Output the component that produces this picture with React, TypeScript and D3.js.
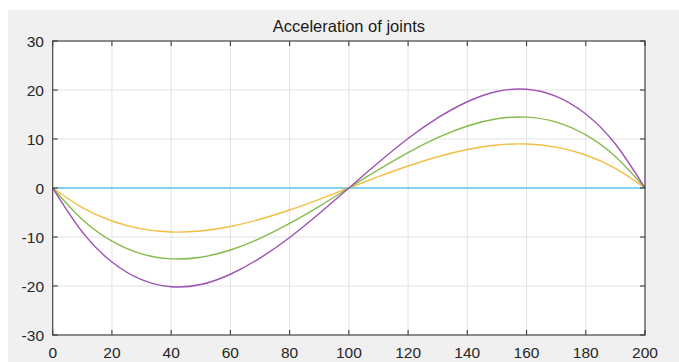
import React from "react";
import * as d3 from "d3";

const xs = [0, 10, 20, 30, 40, 50, 60, 70, 80, 90, 100, 110, 120, 130, 140, 150, 160, 170, 180, 190, 200];
const purple = [0, -8.97, -15.1, -18.7, -20.15, -19.7, -17.6, -14.3, -10.1, -5.2, 0, 5.2, 10.1, 14.3, 17.6, 19.7, 20.15, 18.7, 15.1, 8.97, 0];
const green = [0, -6.44, -10.85, -13.45, -14.47, -14.13, -12.66, -10.28, -7.23, -3.73, 0, 3.73, 7.23, 10.28, 12.66, 14.13, 14.47, 13.45, 10.85, 6.44, 0];
const yellow = [0, -4.0, -6.73, -8.35, -8.98, -8.77, -7.86, -6.38, -4.49, -2.31, 0, 2.31, 4.49, 6.38, 7.86, 8.77, 8.98, 8.35, 6.73, 4.0, 0];
const cyan = [0, 0, 0, 0, 0, 0, 0, 0, 0, 0, 0, 0, 0, 0, 0, 0, 0, 0, 0, 0, 0];
const xTicks = [0, 20, 40, 60, 80, 100, 120, 140, 160, 180, 200];
const yTicks = [-30, -20, -10, 0, 10, 20, 30];
const title = "Acceleration of joints";

const series = [
  { name: "cyan", values: cyan, color: "#5ec5ee" },
  { name: "yellow", values: yellow, color: "#f2be45" },
  { name: "green", values: green, color: "#86bb4c" },
  { name: "purple", values: purple, color: "#9d52b4" },
];

export default function App() {
  const W = 679, H = 362;
  const L = 52.7, R = 645, T = 41, B = 335;
  const x = d3.scaleLinear().domain([0, 200]).range([L, R]);
  const y = d3.scaleLinear().domain([-30, 30]).range([B, T]);
  const line = (vals: number[]) =>
    d3.line<number>().x((_, i) => x(xs[i])).y((d) => y(d)).curve(d3.curveNatural)(vals) || "";
  const font = "'Liberation Sans', Arial, Helvetica, sans-serif";
  const axisColor = "#3a3a3a";
  const tl = 5;
  return (
    <svg width={W} height={H} style={{ position: "absolute", left: 0, top: 0, display: "block" }}>
      <rect x={0} y={0} width={W} height={H} fill="#ffffff" />
      <rect x={8} y={10} width={W - 8} height={H - 10} fill="#f0f0f0" />
      <rect x={L} y={T} width={R - L} height={B - T} fill="#ffffff" />
      {xTicks.map((t) => (
        <line key={"gx" + t} x1={x(t)} x2={x(t)} y1={T} y2={B} stroke="#e3e3e3" strokeWidth={1} />
      ))}
      {yTicks.map((t) => (
        <line key={"gy" + t} x1={L} x2={R} y1={y(t)} y2={y(t)} stroke="#e3e3e3" strokeWidth={1} />
      ))}
      {series.map((s) => (
        <path key={s.name} d={line(s.values)} fill="none" stroke={s.color} strokeWidth={1.4} />
      ))}
      <rect x={L} y={T} width={R - L} height={B - T} fill="none" stroke={axisColor} strokeWidth={1.1} />
      {xTicks.map((t) => (
        <g key={"tx" + t}>
          <line x1={x(t)} x2={x(t)} y1={B} y2={B - tl} stroke={axisColor} strokeWidth={1.1} />
          <line x1={x(t)} x2={x(t)} y1={T} y2={T + tl} stroke={axisColor} strokeWidth={1.1} />
          <text x={x(t)} y={358} textAnchor="middle" fontFamily={font} fontSize={15.5} fill="#262626">
            {t}
          </text>
        </g>
      ))}
      {yTicks.map((t) => (
        <g key={"ty" + t}>
          <line x1={L} x2={L + tl} y1={y(t)} y2={y(t)} stroke={axisColor} strokeWidth={1.1} />
          <line x1={R} x2={R - tl} y1={y(t)} y2={y(t)} stroke={axisColor} strokeWidth={1.1} />
          <text x={44} y={y(t) + 5.5} textAnchor="end" fontFamily={font} fontSize={15.5} fill="#262626">
            {t}
          </text>
        </g>
      ))}
      <text x={(L + R) / 2} y={32} textAnchor="middle" fontFamily={font} fontSize={16.5} fill="#1a1a1a">
        {title}
      </text>
    </svg>
  );
}
